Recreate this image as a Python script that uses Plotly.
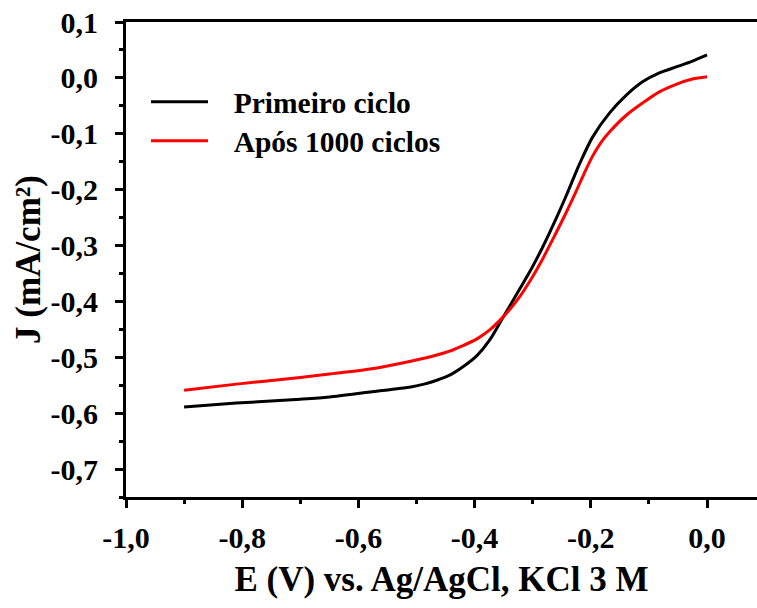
import plotly.graph_objects as go

# Polarization curves: current density J vs potential E
potential_primeiro = [-0.90, -0.81, -0.70, -0.65, -0.58, -0.51, -0.487, -0.465, -0.443, -0.42,
                      -0.396, -0.374, -0.352, -0.34, -0.322, -0.302, -0.283, -0.259, -0.242,
                      -0.228, -0.219, -0.197, -0.168, -0.138, -0.111, -0.082, -0.052, -0.025, 0.0]
j_primeiro = [-0.589, -0.582, -0.575, -0.571, -0.562, -0.553, -0.548, -0.541, -0.532, -0.517,
              -0.497, -0.469, -0.430, -0.409, -0.377, -0.341, -0.303, -0.250, -0.210,
              -0.175, -0.153, -0.106, -0.063, -0.030, -0.007, 0.009, 0.020, 0.030, 0.041]

potential_apos = [-0.90, -0.81, -0.70, -0.65, -0.58, -0.51, -0.465, -0.443, -0.42, -0.396,
                  -0.374, -0.352, -0.34, -0.322, -0.305, -0.285, -0.266, -0.242, -0.224,
                  -0.211, -0.197, -0.182, -0.168, -0.138, -0.111, -0.082, -0.052, -0.025, 0.0]
j_apos = [-0.559, -0.548, -0.536, -0.530, -0.521, -0.507, -0.496, -0.489, -0.479, -0.467,
          -0.451, -0.429, -0.415, -0.391, -0.364, -0.328, -0.290, -0.240, -0.200,
          -0.170, -0.140, -0.115, -0.097, -0.066, -0.045, -0.025, -0.011, -0.002, 0.002]

series_names = ["Primeiro ciclo", "Após 1000 ciclos"]

x_tick_vals = [-1.0, -0.8, -0.6, -0.4, -0.2, 0.0]
x_tick_text = ["-1,0", "-0,8", "-0,6", "-0,4", "-0,2", "0,0"]
y_tick_vals = [0.1, 0.0, -0.1, -0.2, -0.3, -0.4, -0.5, -0.6, -0.7]
y_tick_text = ["0,1", "0,0", "-0,1", "-0,2", "-0,3", "-0,4", "-0,5", "-0,6", "-0,7"]

FONT = "Liberation Serif, Times New Roman, serif"
LEGEND_GAP = "\u2002\u2009"  # extra space between the legend line and its label

fig = go.Figure()
fig.add_trace(go.Scatter(x=potential_primeiro, y=j_primeiro, mode="lines",
                         name=LEGEND_GAP + series_names[0], legend="legend",
                         line=dict(color="black", width=3, shape="spline", smoothing=0.8)))
fig.add_trace(go.Scatter(x=potential_apos, y=j_apos, mode="lines",
                         name=LEGEND_GAP + series_names[1], legend="legend2",
                         line=dict(color="#ff0000", width=3, shape="spline", smoothing=0.8)))

axis_common = dict(
    showgrid=False, zeroline=False, showline=True, linecolor="black", linewidth=3,
    ticks="outside", ticklen=8, tickwidth=3, tickcolor="black",
    tickfont=dict(family=FONT, size=30, color="black", weight="bold"),
)
title_font = dict(family=FONT, size=35, color="black", weight="bold")

fig.update_xaxes(
    **axis_common,
    range=[-1.0, 0.086], mirror=True, ticklabelstandoff=4,
    tickmode="array", tickvals=x_tick_vals, ticktext=x_tick_text,
    minor=dict(ticks="outside", ticklen=4, tickwidth=3, tickcolor="black", dtick=0.1),
    title=dict(text="E (V) vs. Ag/AgCl, KCl 3 M", standoff=14, font=title_font),
)
fig.update_yaxes(
    **axis_common,
    range=[-0.75, 0.1], ticklabelstandoff=11,
    tickmode="array", tickvals=y_tick_vals, ticktext=y_tick_text,
    minor=dict(ticks="outside", ticklen=4, tickwidth=3, tickcolor="black", dtick=0.05),
    title=dict(text="J (mA/cm²)", standoff=0, font=title_font),
)

legend_common = dict(
    x=0.0317, xanchor="left", yanchor="middle",
    bgcolor="rgba(0,0,0,0)", itemwidth=57,
    font=dict(family=FONT, size=29.5, color="black", weight="bold"),
)

fig.update_layout(
    width=757, height=608,
    margin=dict(l=126, r=0, t=22, b=111),
    paper_bgcolor="white", plot_bgcolor="white",
    showlegend=True,
    legend=dict(y=0.8316, **legend_common),
    legend2=dict(y=0.7495, **legend_common),
)

fig.write_html("out.html")
